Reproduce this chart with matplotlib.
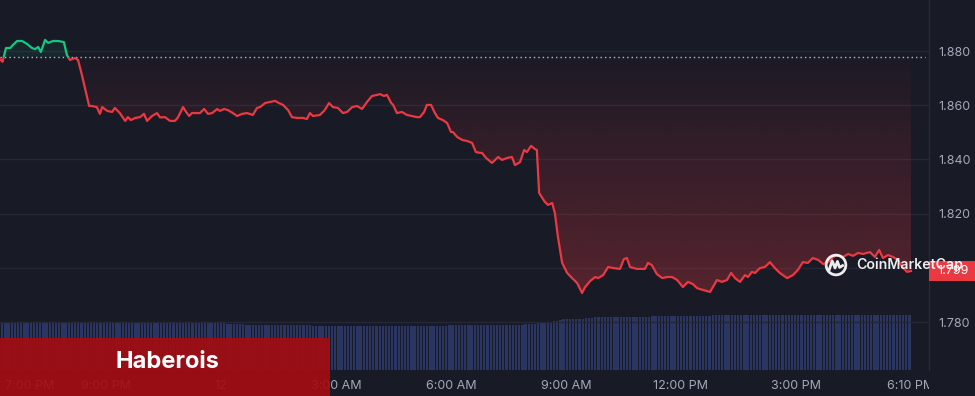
import numpy as np
import matplotlib
matplotlib.use("Agg")
import matplotlib.pyplot as plt
from matplotlib.patches import Rectangle, Circle, PathPatch
from matplotlib.path import Path
from matplotlib.transforms import Bbox, TransformedBbox, blended_transform_factory

# ---------------- data ----------------
# hours relative to midnight (negative = previous evening)
times = [-5.83, -5.70, -5.61, -5.50, -5.43, -5.32, -5.19, -5.06, -4.93, -4.85, -4.77, -4.70,
         -4.59, -4.51, -4.38, -4.25, -4.10, -4.02, -3.94, -3.81, -3.73, -3.63, -3.55, -3.44,
         -3.37, -3.24, -3.16, -3.10, -2.97, -2.84, -2.77, -2.64, -2.50, -2.43, -2.35, -2.24,
         -2.11, -2.01, -1.93, -1.80, -1.67, -1.59, -1.46, -1.33, -1.20, -1.12, -0.99, -0.91,
         -0.83, -0.76, -0.55, -0.44, -0.34, -0.23, -0.10, -0.03, 0.08, 0.18, 0.31, 0.42,
         0.55, 0.68, 0.83, 0.94, 1.02, 1.15, 1.28, 1.41, 1.51, 1.62, 1.75, 1.85,
         1.98, 2.14, 2.24, 2.32, 2.40, 2.58, 2.69, 2.82, 2.92, 3.05, 3.18, 3.29,
         3.42, 3.55, 3.68, 3.81, 3.94, 4.07, 4.15, 4.25, 4.33, 4.44, 4.49, 4.59,
         4.72, 4.85, 4.98, 5.11, 5.19, 5.30, 5.37, 5.48, 5.58, 5.66, 5.79, 5.90,
         6.00, 6.05, 6.16, 6.29, 6.42, 6.55, 6.65, 6.76, 6.81, 6.91, 7.07, 7.23,
         7.33, 7.46, 7.59, 7.67, 7.80, 7.91, 7.98, 8.09, 8.19, 8.24, 8.30, 8.45,
         8.53, 8.64, 8.71, 8.79, 8.90, 9.03, 9.16, 9.29, 9.42, 9.50, 9.63, 9.76,
         9.84, 9.97, 10.10, 10.23, 10.41, 10.51, 10.59, 10.67, 10.85, 11.06, 11.14, 11.24,
         11.37, 11.51, 11.64, 11.77, 11.90, 12.05, 12.18, 12.31, 12.42, 12.58, 12.76, 12.94,
         13.07, 13.20, 13.31, 13.41, 13.54, 13.67, 13.75, 13.85, 13.93, 14.06, 14.19, 14.32,
         14.45, 14.58, 14.77, 14.92, 15.05, 15.18, 15.31, 15.44, 15.58, 15.71, 15.84, 15.97,
         16.10, 16.23, 16.36, 16.49, 16.62, 16.75, 16.93, 17.06, 17.17, 17.27, 17.40, 17.53,
         17.66, 17.77, 17.90, 18.00]

prices = [1.8780, 1.8760, 1.8811, 1.8811, 1.8822, 1.8837, 1.8837, 1.8826, 1.8811, 1.8807, 1.8815, 1.8796,
          1.8841, 1.8830, 1.8837, 1.8837, 1.8833, 1.8785, 1.8767, 1.8774, 1.8767, 1.8712, 1.8664, 1.8597,
          1.8597, 1.8593, 1.8568, 1.8593, 1.8579, 1.8575, 1.8590, 1.8571, 1.8542, 1.8556, 1.8545, 1.8553,
          1.8556, 1.8568, 1.8542, 1.8560, 1.8571, 1.8555, 1.8556, 1.8542, 1.8542, 1.8556, 1.8593, 1.8575,
          1.8560, 1.8571, 1.8571, 1.8586, 1.8568, 1.8571, 1.8586, 1.8579, 1.8586, 1.8582, 1.8571, 1.8560,
          1.8568, 1.8571, 1.8564, 1.8590, 1.8593, 1.8608, 1.8612, 1.8616, 1.8608, 1.8601, 1.8582, 1.8556,
          1.8553, 1.8553, 1.8549, 1.8571, 1.8560, 1.8564, 1.8579, 1.8608, 1.8593, 1.8590, 1.8571, 1.8575,
          1.8593, 1.8597, 1.8586, 1.8612, 1.8634, 1.8638, 1.8641, 1.8634, 1.8638, 1.8608, 1.8601, 1.8571,
          1.8575, 1.8564, 1.8560, 1.8556, 1.8556, 1.8575, 1.8601, 1.8601, 1.8571, 1.8553, 1.8545, 1.8534,
          1.8501, 1.8501, 1.8483, 1.8472, 1.8468, 1.8461, 1.8427, 1.8424, 1.8424, 1.8406, 1.8387, 1.8409,
          1.8398, 1.8405, 1.8409, 1.8379, 1.8390, 1.8435, 1.8427, 1.8450, 1.8438, 1.8435, 1.8276, 1.8243,
          1.8232, 1.8239, 1.8202, 1.8114, 1.8018, 1.7981, 1.7962, 1.7944, 1.7907, 1.7929, 1.7951, 1.7966,
          1.7962, 1.7973, 1.8003, 1.7999, 1.7996, 1.8032, 1.8036, 1.8003, 1.7996, 1.7996, 1.8018, 1.8010,
          1.7977, 1.7962, 1.7966, 1.7966, 1.7955, 1.7929, 1.7948, 1.7940, 1.7925, 1.7918, 1.7911, 1.7955,
          1.7948, 1.7955, 1.7981, 1.7962, 1.7948, 1.7973, 1.7966, 1.7985, 1.7981, 1.7999, 1.8003, 1.8021,
          1.7999, 1.7981, 1.7962, 1.7973, 1.7992, 1.8021, 1.8018, 1.8036, 1.8029, 1.8014, 1.8021, 1.8040,
          1.8047, 1.8040, 1.8051, 1.8044, 1.8055, 1.8051, 1.8058, 1.8040, 1.8066, 1.8036, 1.8047, 1.8040,
          1.8029, 1.8003, 1.7985, 1.7988]

open_price = 1.8778
last_label = "1.799"

# volume bars (5-minute, arbitrary units), one row per hour
volume = [
    144, 145, 144, 144, 145, 144, 144, 144, 145, 144, 144, 144,
    144, 144, 144, 145, 144, 144, 144, 144, 144, 143, 143, 143,
    142, 142, 142, 142, 142, 142, 142, 142, 142, 142, 142, 142,
    142, 142, 141, 141, 141, 142, 141, 141, 141, 141, 141, 141,
    141, 141, 141, 141, 141, 141, 141, 141, 141, 141, 141, 141,
    141, 141, 141, 141, 141, 141, 141, 140, 140, 140, 140, 140,
    139, 139, 138, 138, 137, 137, 136, 136, 136, 136, 136, 136,
    135, 135, 135, 135, 135, 135, 135, 135, 135, 135, 134, 134,
    134, 134, 134, 133, 133, 133, 133, 132, 132, 132, 132, 132,
    132, 132, 132, 132, 132, 132, 132, 132, 132, 132, 132, 132,
    132, 132, 132, 132, 132, 132, 132, 132, 132, 132, 132, 132,
    132, 132, 132, 132, 132, 133, 133, 133, 133, 133, 134, 134,
    134, 134, 135, 135, 135, 135, 135, 135, 135, 135, 135, 135,
    135, 135, 135, 135, 135, 135, 136, 136, 136, 136, 137, 137,
    137, 139, 141, 144, 144, 144, 145, 146, 148, 150, 152, 153,
    153, 153, 153, 153, 154, 155, 156, 157, 158, 159, 159, 159,
    159, 159, 159, 159, 159, 160, 160, 160, 160, 160, 160, 160,
    160, 160, 161, 161, 161, 161, 161, 161, 161, 161, 162, 162,
    162, 162, 162, 163, 163, 163, 163, 163, 163, 164, 164, 164,
    164, 164, 164, 164, 164, 165, 165, 165, 165, 165, 165, 165,
    165, 165, 165, 165, 165, 165, 165, 165, 165, 165, 165, 165,
    165, 165, 165, 165, 165, 165, 165, 165, 165, 165, 165, 165,
    165, 165, 165, 165, 165, 165, 165, 165, 165, 165, 165, 165,
    165, 165, 165, 165, 165, 165, 165, 165, 165, 165, 165, 165,
]
vol_start, vol_end = -5.833, 18.0

x_ticks = [-5, -3, 0, 3, 6, 9, 12, 15, 17.98]
x_labels = ["7:00 PM", "9:00 PM", "12", "3:00 AM", "6:00 AM", "9:00 AM", "12:00 PM", "3:00 PM", "6:10 PM"]
price_ticks = [1.78, 1.80, 1.82, 1.84, 1.86, 1.88]
price_tick_labels = ["1.780", "", "1.820", "1.840", "1.860", "1.880"]  # 1.800 hidden behind price tag

assert len(times) == len(prices)

# ---------------- style ----------------
W, H = 975, 396
BG = "#181a25"
RED = "#ea3943"
GREEN = "#16c784"
GRID = "#242735"
TXT = "#a3a9b8"
FONT = ["Inter", "DejaVu Sans"]
plt.rcParams["font.family"] = FONT

fig = plt.figure(figsize=(W / 100, H / 100), dpi=100)
fig.patch.set_facecolor(BG)

def fx(px):
    return px / W

def fy(py):
    return 1 - py / H

rect = [0, fy(370), fx(929), 370 / H]
xlim = (-5.766, 18.471)
ylim = (1.76229, 1.89882)

# volume axes (underneath)
axv = fig.add_axes(rect, zorder=0)
axv.set_facecolor(BG)
n = len(volume)
bw = (vol_end - vol_start) / n
centers = vol_start + (np.arange(n) + 0.5) * bw
axv.bar(centers, volume, width=bw * 0.72, color="#2a3561", linewidth=0)
axv.set_xlim(*xlim)
axv.set_ylim(0, 1110)
axv.axis("off")

# price axes
ax = fig.add_axes(rect, zorder=1)
ax.patch.set_alpha(0)
ax.set_xlim(*xlim)
ax.set_ylim(*ylim)
for s in ["top", "left", "bottom"]:
    ax.spines[s].set_visible(False)
ax.spines["right"].set_color("#262a39")
ax.spines["right"].set_linewidth(1)

ax.yaxis.tick_right()
ax.set_yticks(price_ticks, price_tick_labels)
ax.set_xticks(x_ticks, x_labels)
ax.tick_params(axis="both", length=0, colors=TXT, labelsize=9)
ax.tick_params(axis="y", pad=7)
ax.tick_params(axis="x", pad=7)
ax.yaxis.grid(True, color=GRID, linewidth=1)
ax.xaxis.grid(False)
ax.set_axisbelow(True)

t = np.array(times)
p = np.array(prices)

# gradient fill below baseline
fb = ax.fill_between(t, p, open_price, where=p <= open_price, interpolate=True,
                     facecolor="none", edgecolor="none")
paths = fb.get_paths()
if paths:
    cpath = Path.make_compound_path(*paths)
    patch = PathPatch(cpath, transform=ax.transData, facecolor="none", edgecolor="none")
    ax.add_patch(patch)
    grad = np.zeros((256, 1, 4))
    rgb = matplotlib.colors.to_rgb(RED)
    grad[..., 0], grad[..., 1], grad[..., 2] = rgb
    grad[:, 0, 3] = np.linspace(0.30, 0.02, 256)
    im = ax.imshow(grad, extent=[t.min(), t.max(), p.min(), open_price], origin="lower",
                   aspect="auto", interpolation="bilinear", zorder=1)
    im.set_clip_path(patch)
    ax.set_xlim(*xlim)
    ax.set_ylim(*ylim)

# green fill above baseline
ax.fill_between(t, p, open_price, where=p >= open_price, interpolate=True,
                color=GREEN, alpha=0.08, linewidth=0, zorder=1)

# baseline
ax.axhline(open_price, xmin=0, xmax=925 / 929, color="#b5bac6", linewidth=1,
           linestyle=(0, (1, 2.2)), zorder=2)

# price line split into colours
big = 10
above = Rectangle((xlim[0], open_price), xlim[1] - xlim[0], big, transform=ax.transData)
below = Rectangle((xlim[0], open_price - big), xlim[1] - xlim[0], big, transform=ax.transData)
lr, = ax.plot(t, p, color=RED, linewidth=1.6, zorder=3, solid_joinstyle="round")
lr.set_clip_path(below)
lg, = ax.plot(t, p, color=GREEN, linewidth=1.6, zorder=3, solid_joinstyle="round")
lg.set_clip_path(above)

# last price tag
btr = blended_transform_factory(ax.transAxes, ax.transData)
half = 0.0037
tag = Rectangle((1.0, p[-1] - half), 50 / 929, 2 * half, transform=btr, facecolor=RED,
                edgecolor="none", clip_on=False, zorder=6)
ax.add_patch(tag)
ax.text(1.0 + 8 / 929, p[-1], last_label, transform=btr, color="white", fontsize=9,
        va="center", ha="left", clip_on=False, zorder=7)

# clip the last x label at the axis separator
clipbox = TransformedBbox(Bbox([[0, 0], [929 / W, 1]]), fig.transFigure)
for lbl in ax.get_xticklabels():
    lbl.set_clip_box(clipbox)
    lbl.set_clip_on(True)

# watermark
fig.text(fx(856), fy(265), "CoinMarketCap", color="white", alpha=0.92, fontsize=10.2,
         fontweight="semibold", va="center", ha="left", zorder=20)
lax = fig.add_axes([fx(824), fy(277), fx(24), 24 / H], zorder=20)
lax.set_xlim(-1, 1)
lax.set_ylim(-1, 1)
lax.axis("off")
lax.add_patch(Circle((0, 0), 0.82, fill=False, edgecolor="white", linewidth=2, alpha=0.92))
lax.plot([-0.55, -0.32, -0.08, 0.12, 0.3, 0.55], [-0.35, 0.35, -0.25, 0.3, -0.2, -0.05],
         color="white", linewidth=2, alpha=0.92, solid_joinstyle="round")

# banner
fig.patches.append(Rectangle((0, 0), fx(330), (396 - 338) / H, transform=fig.transFigure,
                             facecolor="#a30c12", alpha=0.92, edgecolor="none", zorder=30))
fig.text(fx(167), fy(362), "Haberois", color="white", fontsize=17, fontweight="bold",
         ha="center", va="center", zorder=31)

fig.savefig("out.png", dpi=100, facecolor=BG)
